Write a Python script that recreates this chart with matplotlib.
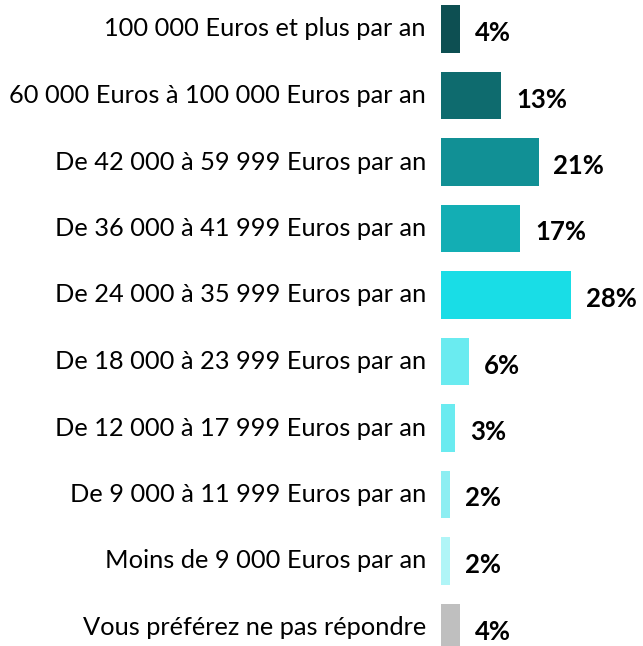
import matplotlib
matplotlib.use("Agg")
import matplotlib.pyplot as plt

categories = [
    "100 000 Euros et plus par an",
    "60 000 Euros à 100 000 Euros par an",
    "De 42 000 à 59 999 Euros par an",
    "De 36 000 à 41 999 Euros par an",
    "De 24 000 à 35 999 Euros par an",
    "De 18 000 à 23 999 Euros par an",
    "De 12 000 à 17 999 Euros par an",
    "De 9 000 à 11 999 Euros par an",
    "Moins de 9 000 Euros par an",
    "Vous préférez ne pas répondre",
]
values = [4, 13, 21, 17, 28, 6, 3, 2, 2, 4]
colors = ["#0d4f52", "#0e6b6e", "#119095", "#13aeb4", "#19dde6",
          "#6aebf0", "#6aebf0", "#8deef2", "#b0f5f7", "#bfbfbf"]

W, H = 643, 646
fig = plt.figure(figsize=(W / 100, H / 100), dpi=100)
left = 441 / W
ax = fig.add_axes([left, 0, 1 - left, 1])

ax.barh(range(len(values)), values, height=0.72, color=colors)

px_per_unit = 130 / 28
xmax = (W - 441) / px_per_unit
ax.set_xlim(0, xmax)
ax.set_ylim((H - 29) / 66.5, -29 / 66.5)
ax.axis("off")

for i, (cat, v) in enumerate(zip(categories, values)):
    ax.annotate(cat, xy=(0, i), xytext=(-15, 0), textcoords="offset pixels",
                ha="right", va="center", fontsize=18.3, family="Lato",
                color="#000000")
    ax.annotate(f"{v}%", xy=(v, i), xytext=(15, -4), textcoords="offset pixels",
                ha="left", va="center", fontsize=18.5, family="Lato",
                fontweight="bold", color="#000000")

fig.savefig("out.png", dpi=100)
